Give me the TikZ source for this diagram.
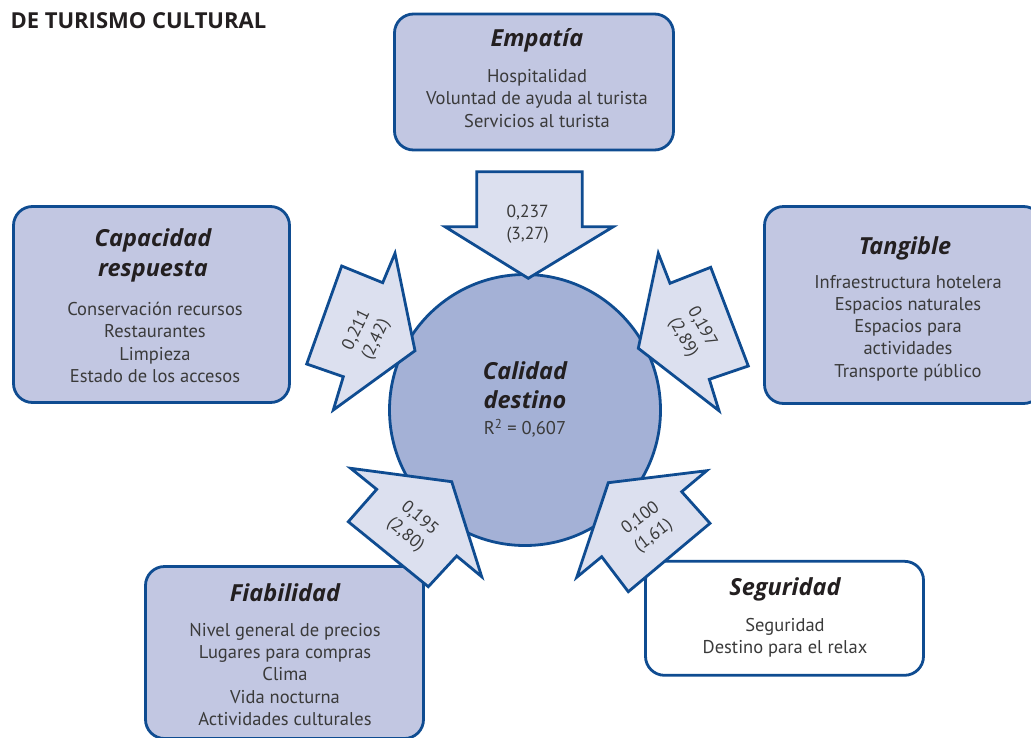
\documentclass[tikz,border=0pt]{standalone}
\usepackage{fontspec}
\setmainfont{PT Sans}
\newfontfamily\titfont{Open Sans}
\definecolor{linea}{HTML}{0F4C91}
\definecolor{cajafill}{HTML}{C2C7E2}
\definecolor{centrofill}{HTML}{A4B1D6}
\definecolor{flechafill}{HTML}{DCE0EF}
\definecolor{negro}{HTML}{231F20}
\definecolor{gris}{HTML}{3A3A3A}
\begin{document}
\begin{tikzpicture}[x=1pt,y=-1pt,
  caja/.style={draw=linea,line width=2.8pt,fill=cajafill,rounded corners=19pt,inner sep=0pt},
  circulo/.style={circle,draw=linea,line width=2.8pt,fill=centrofill,inner sep=0pt,minimum size=271pt},
  bloque/.style={draw=linea,line width=2.8pt,fill=flechafill},
  titulo/.style={font=\titfont\fontsize{23.5}{29.5}\selectfont\bfseries\itshape,text=negro,align=center},
  lista/.style={font=\fontsize{18.5}{22.3}\selectfont,text=gris,align=center},
  valor/.style={font=\fontsize{17.5}{21.5}\selectfont,text=gris,align=center}]
\useasboundingbox (0,0) rectangle (1031,737);
\clip (0,0) rectangle (1031,737);
\node[anchor=base west,font=\titfont\fontsize{22}{26}\selectfont\bfseries,text=negro] (cabecera) at (7,28) {DE TURISMO CULTURAL};
\node[caja,minimum width=279pt,minimum height=136pt] (empatia) at (534,82) {};
\node[caja,minimum width=276pt,minimum height=196pt] (capacidad) at (151.5,304.5) {};
\node[caja,minimum width=278pt,minimum height=197pt] (tangible) at (903.5,305) {};
\node[caja,minimum width=278pt,minimum height=172pt] (fiabilidad) at (284.5,652.5) {};
\node[caja,fill=white,minimum width=278pt,minimum height=114pt] (seguridad) at (784.5,618.3) {};
\node[circulo] (calidad) at (525,410) {};
\draw[bloque] (476.7,171.7) -- (582.3,171.7) -- (582.3,226.7) -- (613.3,226.7) -- (528.3,278.3) -- (445,226.7) -- (476.7,226.7) -- cycle;
\draw[bloque] (415,350.7) -- (395,253.3) -- (382.7,282.7) -- (341.7,266) -- (306.7,364) -- (343.3,376.7) -- (333.3,410) -- cycle;
\draw[bloque] (638.3,348.3) -- (658.3,253.3) -- (670,283.3) -- (710.7,267.3) -- (748.3,366) -- (709.3,379.3) -- (719,410.7) -- cycle;
\draw[bloque] (481.7,576.7) -- (451.7,481.7) -- (350.7,468.3) -- (376.7,489.3) -- (348.3,521.7) -- (428.3,586.7) -- (456.7,556) -- cycle;
\draw[bloque] (576.7,577.3) -- (601.7,556.7) -- (628.3,591.7) -- (710,523.3) -- (681.7,491.7) -- (706.7,470.7) -- (608.3,482.7) -- cycle;
\node[valor] (vemp) at (527.7,224) {0,237\\(3,27)};
\node[valor,rotate=64] (vcap) at (366.7,335) {0,211\\(2,42)};
\node[valor,rotate=-61] (vtan) at (692.3,332.3) {0,197\\(2,89)};
\node[valor,rotate=-40] (vfia) at (412.3,526.7) {0,195\\(2,80)};
\node[valor,rotate=37] (vseg) at (647.3,527.3) {0,100\\(1,61)};
\node[titulo] (tcal) at (525,385) {Calidad\\destino};
\node[lista] (rcal) at (525,428) {R\textsuperscript{2} = 0,607};
\node[titulo] (temp) at (537,40) {Empatía};
\node[lista] (lemp) at (537,98.5) {Hospitalidad\\Voluntad de ayuda al turista\\Servicios al turista};
\node[titulo] (tcap) at (153,255.5) {Capacidad\\respuesta};
\node[lista] (lcap) at (155,342.5) {Conservación recursos\\Restaurantes\\Limpieza\\Estado de los accesos};
\node[titulo] (ttan) at (905,248) {Tangible};
\node[lista] (ltan) at (908,328) {Infraestructura hotelera\\Espacios naturales\\Espacios para\\actividades\\Transporte público};
\node[titulo] (tfia) at (285,593) {Fiabilidad};
\node[lista] (lfia) at (285,674.5) {Nivel general de precios\\Lugares para compras\\Clima\\Vida nocturna\\Actividades culturales};
\node[titulo] (tseg) at (785,589) {Seguridad};
\node[lista] (lseg) at (785,638) {Seguridad\\Destino para el relax};
\end{tikzpicture}
\end{document}
